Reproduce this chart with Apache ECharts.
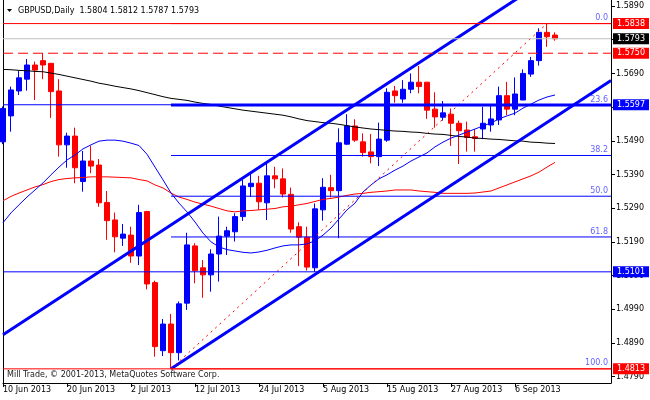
<!DOCTYPE html>
<html><head><meta charset="utf-8">
<script src="https://cdn.jsdelivr.net/npm/echarts@6/dist/echarts.min.js"></script>
<style>html,body{margin:0;padding:0;background:#fff}#c{width:650px;height:400px}</style>
</head><body><div id="c"></div>
<script>
const symbolName = 'GBPUSD,Daily';
const copyright = 'Mill Trade, \u00a9 2001-2013, MetaQuotes Software Corp.';
const dates = [
 '10 Jun 2013','11 Jun 2013','12 Jun 2013','13 Jun 2013','14 Jun 2013','17 Jun 2013','18 Jun 2013','19 Jun 2013','20 Jun 2013','21 Jun 2013',
 '24 Jun 2013','25 Jun 2013','26 Jun 2013','27 Jun 2013','28 Jun 2013','1 Jul 2013','2 Jul 2013','3 Jul 2013','4 Jul 2013','5 Jul 2013',
 '8 Jul 2013','9 Jul 2013','10 Jul 2013','11 Jul 2013','12 Jul 2013','15 Jul 2013','16 Jul 2013','17 Jul 2013','18 Jul 2013','19 Jul 2013',
 '22 Jul 2013','23 Jul 2013','24 Jul 2013','25 Jul 2013','26 Jul 2013','29 Jul 2013','30 Jul 2013','31 Jul 2013','1 Aug 2013','2 Aug 2013',
 '5 Aug 2013','6 Aug 2013','7 Aug 2013','8 Aug 2013','9 Aug 2013','12 Aug 2013','13 Aug 2013','14 Aug 2013','15 Aug 2013','16 Aug 2013',
 '19 Aug 2013','20 Aug 2013','21 Aug 2013','22 Aug 2013','23 Aug 2013','26 Aug 2013','27 Aug 2013','28 Aug 2013','29 Aug 2013','30 Aug 2013',
 '2 Sep 2013','3 Sep 2013','4 Sep 2013','5 Sep 2013','6 Sep 2013','9 Sep 2013','10 Sep 2013','11 Sep 2013','12 Sep 2013','13 Sep 2013'
];
const futureSlots = 7;
// [open, high, low, close]
const ohlc = [
 [1.5487,1.5592,1.5480,1.5586],[1.5564,1.5651,1.5517,1.5641],[1.5638,1.5697,1.5626,1.5677],[1.5673,1.5733,1.5639,1.5715],
 [1.5715,1.5725,1.5611,1.5700],[1.5728,1.5750,1.5673,1.5715],[1.5720,1.5721,1.5558,1.5636],[1.5638,1.5673,1.5443,1.5478],
 [1.5478,1.5514,1.5410,1.5504],[1.5504,1.5529,1.5364,1.5410],[1.5369,1.5460,1.5339,1.5430],[1.5430,1.5475,1.5394,1.5415],
 [1.5418,1.5436,1.5294,1.5306],[1.5307,1.5341,1.5196,1.5253],[1.5255,1.5277,1.5159,1.5205],[1.5201,1.5243,1.5178,1.5213],
 [1.5210,1.5235,1.5128,1.5148],[1.5148,1.5300,1.5121,1.5277],[1.5280,1.5282,1.5049,1.5065],[1.5069,1.5075,1.4849,1.4879],
 [1.4867,1.4961,1.4851,1.4946],[1.4946,1.4976,1.4813,1.4861],[1.4861,1.5013,1.4838,1.5006],[1.5008,1.5217,1.4988,1.5181],
 [1.5178,1.5186,1.5067,1.5104],[1.5113,1.5136,1.5024,1.5092],[1.5092,1.5168,1.5042,1.5154],[1.5154,1.5265,1.5072,1.5207],
 [1.5207,1.5235,1.5151,1.5223],[1.5220,1.5275,1.5191,1.5265],[1.5265,1.5376,1.5252,1.5356],[1.5354,1.5391,1.5324,1.5364],
 [1.5364,1.5386,1.5285,1.5309],[1.5306,1.5423,1.5255,1.5386],[1.5386,1.5413,1.5349,1.5377],[1.5377,1.5408,1.5322,1.5332],
 [1.5331,1.5351,1.5217,1.5228],[1.5235,1.5248,1.5118,1.5204],[1.5204,1.5235,1.5105,1.5115],[1.5113,1.5304,1.5101,1.5288],
 [1.5285,1.5379,1.5253,1.5352],[1.5351,1.5389,1.5322,1.5342],[1.5342,1.5527,1.5201,1.5484],[1.5480,1.5569,1.5478,1.5534],
 [1.5534,1.5554,1.5487,1.5492],[1.5487,1.5512,1.5443,1.5455],[1.5457,1.5510,1.5423,1.5443],[1.5443,1.5544,1.5415,1.5495],
 [1.5492,1.5646,1.5487,1.5634],[1.5638,1.5653,1.5603,1.5624],[1.5614,1.5670,1.5603,1.5643],[1.5643,1.5690,1.5631,1.5664],
 [1.5664,1.5712,1.5631,1.5651],[1.5664,1.5664,1.5555,1.5581],[1.5584,1.5634,1.5529,1.5561],[1.5560,1.5608,1.5550,1.5573],
 [1.5569,1.5586,1.5475,1.5542],[1.5542,1.5550,1.5421,1.5520],[1.5522,1.5547,1.5458,1.5500],[1.5502,1.5525,1.5458,1.5497],
 [1.5525,1.5591,1.5495,1.5542],[1.5537,1.5599,1.5517,1.5555],[1.5552,1.5651,1.5537,1.5624],[1.5624,1.5665,1.5566,1.5584],
 [1.5584,1.5678,1.5566,1.5629],[1.5611,1.5702,1.5611,1.5690],[1.5688,1.5739,1.5680,1.5728],[1.5728,1.5824,1.5713,1.5812],
 [1.5812,1.5838,1.5769,1.5799],[1.5804,1.5812,1.5787,1.5793]
];
const maBlue = [
 1.5247,1.5276,1.5300,1.5323,1.5344,1.5365,1.5389,1.5412,1.5433,1.5448,
 1.5466,1.5478,1.5489,1.5492,1.5492,1.5489,1.5483,1.5476,1.5450,1.5412,
 1.5374,1.5335,1.5305,1.5279,1.5249,1.5216,1.5190,1.5175,1.5167,1.5163,
 1.5159,1.5157,1.5160,1.5165,1.5172,1.5178,1.5181,1.5181,1.5184,1.5193,
 1.5210,1.5231,1.5258,1.5285,1.5305,1.5338,1.5359,1.5377,1.5389,1.5403,
 1.5415,1.5430,1.5442,1.5454,1.5472,1.5486,1.5498,1.5507,1.5516,1.5525,
 1.5534,1.5543,1.5555,1.5564,1.5572,1.5587,1.5599,1.5611,1.5620,1.5626
];
const maRed = [
 1.5312,1.5325,1.5335,1.5344,1.5353,1.5360,1.5369,1.5375,1.5378,1.5380,
 1.5381,1.5383,1.5383,1.5383,1.5382,1.5381,1.5380,1.5375,1.5371,1.5359,
 1.5350,1.5335,1.5323,1.5316,1.5308,1.5302,1.5296,1.5289,1.5282,1.5279,
 1.5282,1.5283,1.5285,1.5287,1.5289,1.5294,1.5296,1.5300,1.5304,1.5310,
 1.5316,1.5319,1.5323,1.5328,1.5332,1.5334,1.5337,1.5339,1.5341,1.5344,
 1.5344,1.5344,1.5341,1.5339,1.5337,1.5334,1.5334,1.5334,1.5334,1.5335,
 1.5338,1.5341,1.5350,1.5359,1.5368,1.5377,1.5386,1.5397,1.5412,1.5426
];
const maBlack = [
 1.5702,1.5701,1.5699,1.5698,1.5696,1.5695,1.5691,1.5687,1.5682,1.5677,
 1.5672,1.5667,1.5661,1.5657,1.5652,1.5648,1.5644,1.5639,1.5633,1.5627,
 1.5621,1.5616,1.5613,1.5610,1.5605,1.5601,1.5598,1.5593,1.5589,1.5585,
 1.5581,1.5578,1.5575,1.5572,1.5569,1.5566,1.5561,1.5555,1.5550,1.5547,
 1.5544,1.5542,1.5539,1.5535,1.5531,1.5528,1.5525,1.5523,1.5521,1.5519,
 1.5518,1.5516,1.5515,1.5512,1.5510,1.5509,1.5506,1.5503,1.5501,1.5498,
 1.5497,1.5495,1.5494,1.5492,1.5490,1.5489,1.5486,1.5485,1.5483,1.5482
];
const yTicks = [1.4790,1.4890,1.4990,1.5090,1.5190,1.5290,1.5390,1.5490,1.5590,1.5690,1.5790,1.5890];
const channelUpper = [[0,1.4914],[70,1.6001]];
const channelLower = [[21,1.4813],[76,1.5669]];
const fibLow = 1.4813, fibHigh = 1.5838, fibFrom = 21, fibTo = 68;
const fibRatios = [0, 23.6, 38.2, 50.0, 61.8, 100.0];
const redLevels = [1.5838, 1.4813];
const dashedLevels = [1.5750];
const blueLevels = [1.5597, 1.5101];
const bidLevel = 1.5793;

const FONT = 'DejaVu Sans';
const cats = dates.concat(Array(futureSlots).fill(''));
const lastIdx = cats.length - 1;
const showIdx = (i) => i < dates.length && i % 8 === 0;
const last = ohlc[ohlc.length - 1];
const fibValue = r => fibHigh - (fibHigh - fibLow) * r / 100;

function levelSeries(v, from, lineStyle, endLabel, z) {
  return {type: 'line', data: [[from, v], [lastIdx, v]], symbol: 'none', z: z, silent: true,
    lineStyle: lineStyle, endLabel: endLabel, emphasis: {disabled: true}};
}
function boxLabel(v, bg) {
  return {show: true, distance: 2, formatter: v.toFixed(4), color: '#fff', backgroundColor: bg,
    padding: [1, 4, 1, 4], fontFamily: FONT, fontSize: 8, lineHeight: 9};
}
function fibLabel(r) {
  return {show: true, align: 'right', verticalAlign: 'middle', distance: 0, offset: [-3, -5.5], formatter: r.toFixed(1),
    color: '#6464ff', fontFamily: FONT, fontSize: 8};
}

const levelList = [];
fibRatios.forEach(r => {
  const isEdge = (r === 0 || r === 100);
  levelList.push(levelSeries(fibValue(r), fibFrom,
    {color: isEdge ? '#ff0000' : '#0000ff', width: r === 23.6 ? 3 : 1, type: 'solid'}, fibLabel(r), 5));
});
blueLevels.forEach(v => levelList.push(levelSeries(v, 0, {color: '#0000ff', width: 1, type: 'solid'}, boxLabel(v, '#0000ff'), 6)));
redLevels.forEach(v => levelList.push(levelSeries(v, 0, {color: '#ff0000', width: 1, type: 'solid'}, boxLabel(v, '#ff0000'), 6)));
dashedLevels.forEach(v => levelList.push(levelSeries(v, 0, {color: '#ff0000', width: 1, type: [10, 5]}, boxLabel(v, '#ff0000'), 6)));
levelList.push(levelSeries(bidLevel, 0, {color: '#c0c0c0', width: 1, type: 'solid'}, boxLabel(bidLevel, '#000000'), 6));

const chart = echarts.init(document.getElementById('c'), null, {renderer: 'canvas'});
chart.setOption({
  animation: false,
  backgroundColor: '#fff',
  grid: {left: 3, right: 39, top: 0, bottom: 17},
  xAxis: {
    type: 'category', data: cats, boundaryGap: false,
    axisLine: {lineStyle: {color: '#000', width: 1}},
    axisTick: {show: true, interval: showIdx, length: 4, lineStyle: {color: '#000'}},
    axisLabel: {interval: showIdx, align: 'left', margin: 3, color: '#000', fontFamily: FONT, fontSize: 8},
    splitLine: {show: false}
  },
  yAxis: [{
    type: 'value', position: 'right', min: 1.4771, max: 1.5908,
    axisLine: {show: true, lineStyle: {color: '#000'}},
    axisTick: {show: true, customValues: yTicks, length: 4, lineStyle: {color: '#000'}},
    axisLabel: {customValues: yTicks, formatter: v => v.toFixed(4), margin: 5, color: '#000', fontFamily: FONT, fontSize: 8},
    splitLine: {show: false}
  }, {
    type: 'value', position: 'left', min: 1.4771, max: 1.5908,
    axisLine: {show: true, lineStyle: {color: '#000'}},
    axisTick: {show: false}, axisLabel: {show: false}, splitLine: {show: false}
  }],
  series: [
    {type: 'candlestick', data: ohlc.map(([o, h, l, c]) => [o, c, l, h]), barWidth: 5, z: 2,
     itemStyle: {color: '#0000ff', color0: '#ff0000', borderColor: '#0000ff', borderColor0: '#ff0000', borderWidth: 1}},
    {type: 'line', data: maBlack, symbol: 'none', z: 3, lineStyle: {color: '#000', width: 1}},
    {type: 'line', data: maRed, symbol: 'none', z: 3, lineStyle: {color: '#ff0000', width: 1}},
    {type: 'line', data: maBlue, symbol: 'none', z: 3, lineStyle: {color: '#0000ff', width: 1}},
    {type: 'line', data: channelUpper, symbol: 'none', z: 4, lineStyle: {color: '#0000ff', width: 3}},
    {type: 'line', data: channelLower, symbol: 'none', z: 4, lineStyle: {color: '#0000ff', width: 3}},
    {type: 'line', data: [[fibFrom, fibLow], [fibTo, fibHigh]], symbol: 'none', z: 4, lineStyle: {color: '#ff0000', width: 1, type: [2, 4]}}
  ].concat(levelList),
  graphic: [
    {type: 'polygon', shape: {points: [[7, 9], [12, 9], [9.5, 12]]}, style: {fill: '#000'}},
    {type: 'text', x: 18, y: 11, style: {text: symbolName + '  ' + [last[0], last[1], last[2], last[3]].map(v => v.toFixed(4)).join(' '),
      fill: '#000', font: '8px "DejaVu Sans"', verticalAlign: 'middle'}},
    {type: 'text', x: 7, y: 375, style: {text: copyright, fill: '#202020', font: '8px "DejaVu Sans"', verticalAlign: 'middle'}}
  ]
});
</script></body></html>
